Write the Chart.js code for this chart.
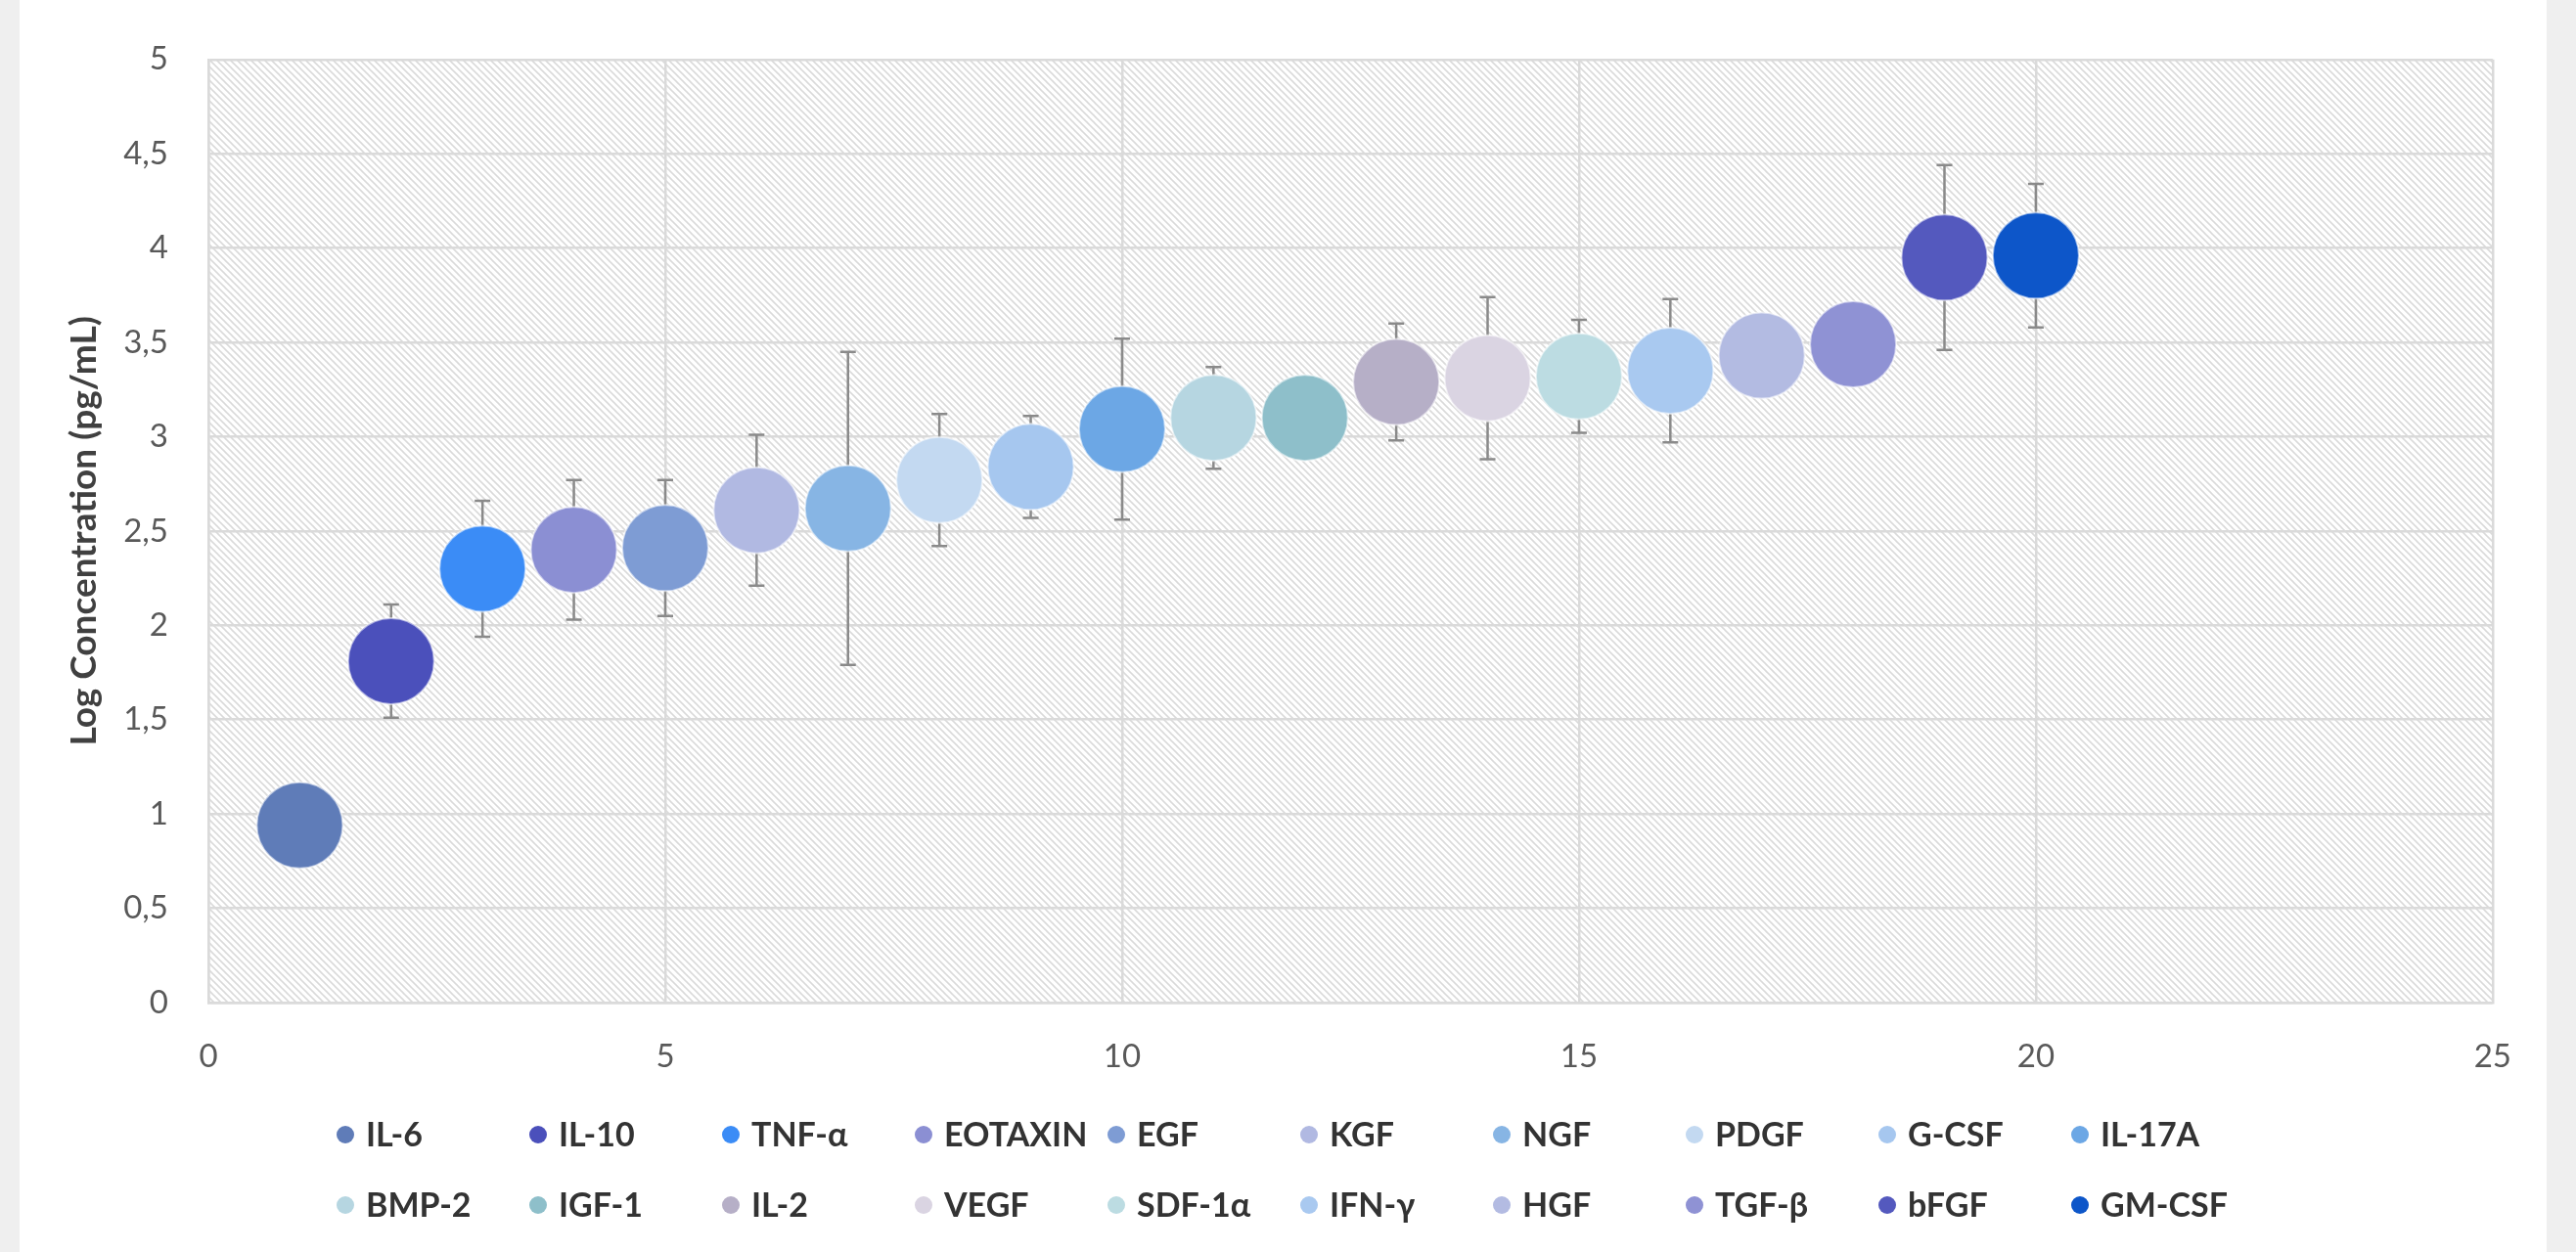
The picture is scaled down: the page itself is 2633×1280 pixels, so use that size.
<!DOCTYPE html>
<html>
<head>
<meta charset="utf-8">
<title>Log Concentration</title>
<script src="https://cdn.jsdelivr.net/npm/chart.js@4.4.1/dist/chart.umd.min.js"></script>
<style>
  html, body { margin: 0; padding: 0; width: 2633px; height: 1280px; overflow: hidden; background: #efefef; }
  #wrap { position: absolute; left: 20px; top: 0; width: 2583px; height: 1280px; background: #ffffff; }
  canvas { display: block; }
</style>
</head>
<body>
<div id="wrap"><canvas id="chart" width="2583" height="1280"></canvas></div>
<script>
// Growth factors / cytokines, in rank order of mean concentration
const cytokines = ['IL-6', 'IL-10', 'TNF-α', 'EOTAXIN', 'EGF', 'KGF', 'NGF', 'PDGF', 'G-CSF', 'IL-17A',
                   'BMP-2', 'IGF-1', 'IL-2', 'VEGF', 'SDF-1α', 'IFN-γ', 'HGF', 'TGF-β', 'bFGF', 'GM-CSF'];
const rank = [1, 2, 3, 4, 5, 6, 7, 8, 9, 10, 11, 12, 13, 14, 15, 16, 17, 18, 19, 20];
// Mean log10 concentration (pg/mL)
const logConc = [0.94, 1.81, 2.30, 2.40, 2.41, 2.61, 2.62, 2.77, 2.84, 3.04,
                 3.10, 3.10, 3.29, 3.31, 3.32, 3.35, 3.43, 3.49, 3.95, 3.96];
// Error (± SD, log units)
const logErr = [0.05, 0.30, 0.36, 0.37, 0.36, 0.40, 0.83, 0.35, 0.27, 0.48,
                0.27, 0.00, 0.31, 0.43, 0.30, 0.38, 0.00, 0.00, 0.49, 0.38];
const seriesColors = ['#5f7cb8', '#4b50bb', '#3b8cf6', '#8b8fd3', '#7e9cd4', '#b1b9e2', '#87b5e4', '#c3d9f1', '#a6c7ef', '#6ca7e5',
                      '#b6d6e1', '#8ebfca', '#b6afc7', '#dad4e2', '#bcdce2', '#a9c9f0', '#b3bbe2', '#8f92d4', '#5459be', '#0d56c9'];
const yTickLabels = ['0', '0,5', '1', '1,5', '2', '2,5', '3', '3,5', '4', '4,5', '5'];
const xTickLabels = ['0', '5', '10', '15', '20', '25'];

const FONT = 'Lato';

// Diagonal hatch fill behind the plot area
const hatchPlugin = {
  id: 'hatch',
  beforeDraw(chart) {
    const { ctx, chartArea: a } = chart;
    const s = 7;
    const tile = document.createElement('canvas');
    tile.width = s; tile.height = s;
    const t = tile.getContext('2d');
    t.fillStyle = '#ffffff';
    t.fillRect(0, 0, s, s);
    t.strokeStyle = '#dadada';
    t.lineWidth = 1.6;
    for (const k of [-s, 0, s]) {
      t.beginPath();
      t.moveTo(-1, k - 1);
      t.lineTo(s + 1, s + k + 1);
      t.stroke();
    }
    ctx.save();
    ctx.fillStyle = ctx.createPattern(tile, 'repeat');
    ctx.fillRect(a.left, a.top, a.right - a.left, a.bottom - a.top);
    ctx.restore();
  }
};

// Vertical error bars with caps, drawn underneath the markers
const errorBarPlugin = {
  id: 'errorBars',
  beforeDatasetsDraw(chart) {
    const { ctx } = chart;
    const yScale = chart.scales.y;
    ctx.save();
    ctx.strokeStyle = '#8a8a8a';
    ctx.lineWidth = 2.5;
    chart.data.datasets.forEach((ds, i) => {
      const e = logErr[i];
      if (!e) return;
      const pt = chart.getDatasetMeta(i).data[0];
      const x = pt.x;
      const yTop = yScale.getPixelForValue(logConc[i] + e);
      const yBot = yScale.getPixelForValue(logConc[i] - e);
      const cap = 8;
      ctx.beginPath();
      ctx.moveTo(x, yTop); ctx.lineTo(x, yBot);
      ctx.moveTo(x - cap, yTop); ctx.lineTo(x + cap, yTop);
      ctx.moveTo(x - cap, yBot); ctx.lineTo(x + cap, yBot);
      ctx.stroke();
    });
    ctx.restore();
  }
};

// Two-row legend laid out on a fixed column grid
const gridLegendPlugin = {
  id: 'gridLegend',
  afterDraw(chart) {
    const { ctx } = chart;
    const cols = 10, colStep = 197, firstX = 333;
    const rowY = [1160, 1232];
    ctx.save();
    ctx.font = 'bold 34px ' + FONT;
    ctx.textBaseline = 'middle';
    ctx.textAlign = 'left';
    chart.data.datasets.forEach((ds, i) => {
      const cx = firstX + (i % cols) * colStep;
      const cy = rowY[Math.floor(i / cols)];
      ctx.fillStyle = ds.backgroundColor;
      ctx.beginPath();
      ctx.arc(cx, cy, 9, 0, Math.PI * 2);
      ctx.fill();
      ctx.fillStyle = '#333333';
      ctx.fillText(ds.label, cx + 21, cy + 1);
    });
    ctx.restore();
  }
};

const datasets = cytokines.map((name, i) => ({
  label: name,
  data: [{ x: rank[i], y: logConc[i] }],
  backgroundColor: seriesColors[i],
  borderColor: 'rgba(255,255,255,0.55)',
  borderWidth: 2,
  pointRadius: 44,
  pointHoverRadius: 44
}));

function build() {
  new Chart(document.getElementById('chart'), {
    type: 'scatter',
    data: { datasets },
    options: {
      responsive: false,
      animation: false,
      devicePixelRatio: 1,
      layout: { padding: { left: 0, right: 42, top: 34, bottom: 0 } },
      plugins: {
        legend: { display: false },
        tooltip: { enabled: false }
      },
      scales: {
        x: {
          type: 'linear',
          min: 0, max: 25,
          afterFit(s) { s.height = 255; },
          ticks: {
            stepSize: 5,
            padding: 36,
            color: '#595959',
            font: { family: FONT, size: 33 },
            callback: (v) => xTickLabels[Math.round(v / 5)]
          },
          grid: { color: '#dadada', lineWidth: 2.5, drawTicks: false },
          border: { display: true, color: '#dadada', width: 2.5 }
        },
        y: {
          type: 'linear',
          min: 0, max: 5,
          afterFit(s) { s.width = 193; },
          ticks: {
            stepSize: 0.5,
            padding: 41,
            color: '#595959',
            font: { family: FONT, size: 33 },
            callback: (v) => yTickLabels[Math.round(v * 2)]
          },
          grid: { color: '#dadada', lineWidth: 2.5, drawTicks: false },
          border: { display: true, color: '#dadada', width: 2.5 },
          title: {
            display: true,
            text: 'Log Concentration (pg/mL)',
            color: '#404040',
            font: { family: FONT, size: 37, weight: 'bold' },
            padding: { top: 44, bottom: 0 }
          }
        }
      }
    },
    plugins: [hatchPlugin, errorBarPlugin, gridLegendPlugin]
  });
}

Promise.all([
  document.fonts.load('33px ' + FONT),
  document.fonts.load('bold 34px ' + FONT)
]).then(build, build);
</script>
</body>
</html>
